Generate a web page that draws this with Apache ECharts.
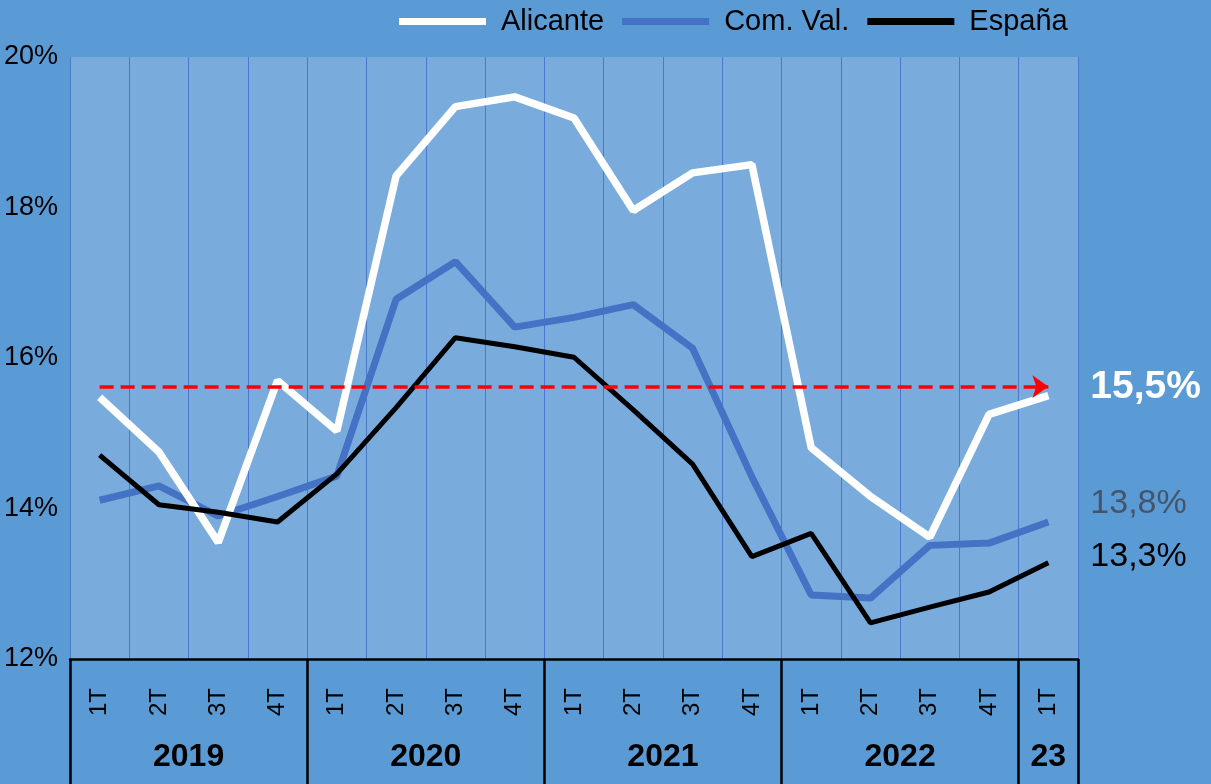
<!DOCTYPE html>
<html>
<head>
<meta charset="utf-8">
<script src="https://cdn.jsdelivr.net/npm/echarts@6/dist/echarts.min.js"></script>
<style>
  html, body { margin: 0; padding: 0; background: #5b9bd5; }
  #chart { width: 1211px; height: 784px; }
</style>
</head>
<body>
<div id="chart"></div>
<script>
// trimestres y años
var quarters = ['1T', '2T', '3T', '4T', '1T', '2T', '3T', '4T', '1T', '2T', '3T', '4T', '1T', '2T', '3T', '4T', '1T'];
var years = ['2019', '2020', '2021', '2022', '23'];
var yearCounts = [4, 4, 4, 4, 1];

// tasa de paro (%)
var alicante = [15.48, 14.75, 13.55, 15.70, 15.03, 18.42, 19.34, 19.47, 19.19, 17.96, 18.46, 18.57, 14.81, 14.16, 13.62, 15.25, 15.50];
var comVal = [14.11, 14.30, 13.90, 14.16, 14.43, 16.78, 17.28, 16.41, 16.54, 16.71, 16.13, 14.42, 12.85, 12.81, 13.51, 13.54, 13.82];
var espana = [14.71, 14.05, 13.95, 13.82, 14.46, 15.34, 16.27, 16.15, 16.01, 15.31, 14.59, 13.36, 13.67, 12.48, 12.69, 12.89, 13.28];
var refLine = 15.62;

var yTicks = [12, 14, 16, 18, 20];

// posiciones de separadores y etiquetas de año
var yearEdges = [0];
var yearCenters = [];
yearCounts.forEach(function (n) {
    var start = yearEdges[yearEdges.length - 1];
    yearCenters.push(start + n / 2);
    yearEdges.push(start + n);
});

var fmt = function (p) {
    return p.value.toFixed(1).replace('.', ',') + '%';
};

var font = 'Liberation Sans';

var chart = echarts.init(document.getElementById('chart'));
var option = {
    backgroundColor: '#5b9bd5',
    textStyle: { fontFamily: font },
    legend: {
        top: 2,
        left: 394,
        itemWidth: 87,
        itemHeight: 7,
        itemGap: 18,
        icon: 'rect',
        data: ['Alicante', 'Com. Val.', 'España'],
        textStyle: { fontSize: 29, color: '#000', padding: [0, 0, 0, 10] }
    },
    grid: {
        left: 70,
        right: 133,
        top: 57,
        bottom: 125,
        show: true,
        backgroundColor: '#79acdc',
        borderWidth: 0
    },
    xAxis: [{
        type: 'category',
        data: quarters,
        boundaryGap: true,
        axisLine: { lineStyle: { color: '#000', width: 2.5 } },
        axisTick: { show: false },
        axisLabel: {
            rotate: 90,
            margin: 29,
            fontSize: 24,
            color: '#000',
            interval: 0
        },
        splitLine: {
            show: true,
            interval: 0,
            lineStyle: { color: '#4a78cc', width: 1 }
        }
    }, {
        type: 'value',
        min: 0,
        max: quarters.length,
        position: 'bottom',
        axisLine: { show: false },
        splitLine: { show: false },
        axisTick: {
            show: true,
            customValues: yearEdges,
            length: 126,
            lineStyle: { color: '#000', width: 2.5 }
        },
        axisLabel: {
            customValues: yearCenters,
            margin: 82,
            fontSize: 32,
            fontWeight: 'bold',
            color: '#000',
            formatter: function (v) {
                return years[yearCenters.indexOf(v)];
            }
        }
    }],
    yAxis: {
        type: 'value',
        min: yTicks[0],
        max: yTicks[yTicks.length - 1],
        interval: 2,
        axisLine: { show: false },
        axisTick: { show: false },
        splitLine: { show: false },
        axisLabel: {
            fontSize: 27,
            color: '#000',
            margin: 12,
            formatter: '{value}%'
        }
    },
    series: [{
        name: 'Com. Val.',
        type: 'line',
        data: comVal,
        symbol: 'none',
        color: '#4472c4',
        lineStyle: { color: '#4472c4', width: 7 },
        z: 2,
        endLabel: {
            show: true,
            formatter: fmt,
            distance: 42,
            offset: [0, -18],
            fontSize: 34,
            color: '#44546a'
        }
    }, {
        name: 'Alicante',
        type: 'line',
        data: alicante,
        symbol: 'none',
        color: '#ffffff',
        lineStyle: { color: '#ffffff', width: 7.5 },
        z: 3,
        endLabel: {
            show: true,
            formatter: fmt,
            distance: 42,
            offset: [0, -8],
            fontSize: 39,
            fontWeight: 'bold',
            color: '#ffffff'
        },
        markLine: {
            silent: true,
            symbol: ['none', 'arrow'],
            symbolSize: [17, 16],
            label: { show: false },
            lineStyle: { color: '#ff0000', type: [14, 7], width: 3.5, opacity: 1 },
            data: [[
                { coord: [0, refLine] },
                { coord: [quarters.length - 1, refLine] }
            ]]
        }
    }, {
        name: 'España',
        type: 'line',
        data: espana,
        symbol: 'none',
        color: '#000000',
        lineStyle: { color: '#000000', width: 5 },
        z: 4,
        endLabel: {
            show: true,
            formatter: fmt,
            distance: 42,
            offset: [0, -6],
            fontSize: 34,
            color: '#000'
        }
    }]
};
chart.setOption(option);
</script>
</body>
</html>
